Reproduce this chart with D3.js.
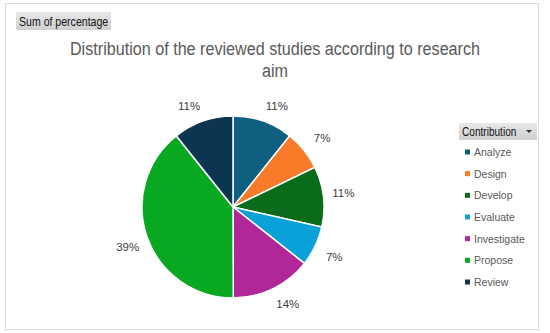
<!DOCTYPE html>
<html><head><meta charset="utf-8">
<script src="https://cdn.jsdelivr.net/npm/d3@7/dist/d3.min.js"></script>
<style>body{margin:0;background:#fff}svg{display:block}</style>
</head><body>
<svg id="chart" width="550" height="333"></svg>
<script>
const categories = ["Analyze","Design","Develop","Evaluate","Investigate","Propose","Review"];
const values = [10.7, 7.1, 10.7, 7.1, 14.3, 39.3, 10.7];
const colors = ["#0e5f80","#f97a28","#0a6b1a","#0aa0d8","#b0279a","#08a820","#0c3550"];
const titleLines = ["Distribution of the reviewed studies according to research","aim"];
const fieldButton = "Sum of percentage";
const legendTitle = "Contribution";

const svg = d3.select("#chart");
const font = "'Liberation Sans',Arial,sans-serif";

// outer border
svg.append("rect").attr("x",5.5).attr("y",3.5).attr("width",533).attr("height",326)
  .attr("fill","#fff").attr("stroke","#d9d9d9");

// field button
const grad = svg.append("defs").append("linearGradient").attr("id","btn").attr("x1",0).attr("y1",0).attr("x2",0).attr("y2",1);
grad.append("stop").attr("offset","0%").attr("stop-color","#e8e8e8");
grad.append("stop").attr("offset","100%").attr("stop-color","#cfcfcf");
svg.append("rect").attr("x",16).attr("y",12).attr("width",95).attr("height",18).attr("fill","url(#btn)");
svg.append("text").attr("transform","translate(19,25.5) scale(0.88,1)").attr("font-family",font).attr("font-size",12)
  .attr("fill","#111").text(fieldButton);

// title
svg.append("g").selectAll("text").data(titleLines).join("text")
  .attr("transform",(d,i)=>`translate(275,${55+i*22}) scale(0.85,1)`).attr("text-anchor","middle")
  .attr("font-family",font).attr("font-size",19).attr("fill","#595959").text(d=>d);

// pie
const cx = 233, cy = 207, r = 91;
const pie = d3.pie().sort(null).value(d=>d)(values);
const arc = d3.arc().innerRadius(0).outerRadius(r);
const g = svg.append("g").attr("transform",`translate(${cx},${cy})`);
g.selectAll("path").data(pie).join("path").attr("d",arc)
  .attr("fill",(d,i)=>colors[i]).attr("stroke","#fff").attr("stroke-width",1.5);

const lr = 100, hw = 11, hh = 7;
const clamp = v=>Math.max(-1,Math.min(1,v));
g.selectAll("text").data(pie).join("text")
  .attr("x",d=>{const a=(d.startAngle+d.endAngle)/2;return lr*Math.sin(a)+hw*clamp(3*Math.sin(a));})
  .attr("y",d=>{const a=(d.startAngle+d.endAngle)/2;return -lr*Math.cos(a)-hh*clamp(3*Math.cos(a));})
  .attr("text-anchor","middle").attr("dominant-baseline","central")
  .attr("font-family",font).attr("font-size",11.5).attr("fill","#404040")
  .text(d=>Math.round(d.value)+"%");

// legend
svg.append("rect").attr("x",459).attr("y",123).attr("width",78).attr("height",17).attr("fill","url(#btn)");
svg.append("text").attr("transform","translate(462,135.5) scale(0.84,1)").attr("font-family",font).attr("font-size",12)
  .attr("fill","#111").text(legendTitle);
svg.append("path").attr("d","M526,130 l6,0 l-3,3 z").attr("fill","#333");

const ly = d3.scalePoint().domain(categories).range([152,282]);
const lg = svg.append("g").selectAll("g").data(categories).join("g")
  .attr("transform",d=>`translate(465,${ly(d)})`);
lg.append("rect").attr("x",0).attr("y",-2.5).attr("width",5).attr("height",5).attr("fill",(d,i)=>colors[i]);
lg.append("text").attr("x",9).attr("y",0).attr("dominant-baseline","central")
  .attr("font-family",font).attr("font-size",10.5).attr("fill","#595959").text(d=>d);
</script>
</body></html>
